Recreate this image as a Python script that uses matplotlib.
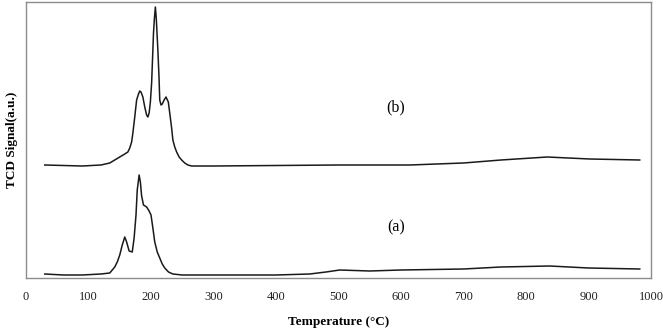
import matplotlib
matplotlib.use("Agg")
import matplotlib.pyplot as plt

# Temperature (°C) and TCD signal (arbitrary units)
temp_b = [30, 60, 90, 120, 134, 150, 158, 163, 166, 169, 171, 174, 177, 180, 182, 184, 187, 190,
          193, 195, 197, 199, 201, 203, 204, 205.5, 207, 208.5, 210, 211, 212.8, 214, 216, 218,
          221, 224, 227.7, 230, 233, 235, 238, 241, 245, 249, 254, 259, 265, 270, 300, 400, 500,
          614, 700, 760, 834, 902, 982]
sig_b = [113, 112.5, 112, 113, 115, 121, 124, 126, 130, 136, 145, 161, 178, 184, 187, 186, 181, 171,
         163, 161, 165, 176, 195, 228, 245, 260, 271, 259, 240, 228, 201, 178, 173, 174,
         178, 181, 176, 165, 150, 138, 131, 126, 121, 118, 115, 113, 112, 112, 112, 112.5, 113,
         113, 115, 118, 121, 119, 118]

temp_a = [30, 60, 90, 120, 134, 142, 146, 150, 154, 158, 161, 165, 170, 173, 176, 178, 181, 183,
          185, 188, 193, 197, 200, 203, 206, 210, 214, 218, 222, 228, 235, 250, 300, 400, 454,
          480, 502, 550, 600, 700, 760, 838, 900, 982]
sig_a = [4, 3, 3, 4, 5, 11, 16, 23, 33, 41, 36, 27, 26, 40, 63, 88, 103, 96,
         82, 73, 71, 67, 63, 50, 36, 26, 20, 14, 10, 6, 4, 3, 3, 3, 4,
         6, 8, 7, 8, 9, 11, 12, 10, 9]

labels = ["(a)", "(b)"]
xticks = [0, 100, 200, 300, 400, 500, 600, 700, 800, 900, 1000]

serif = ["Liberation Serif", "DejaVu Serif"]

fig = plt.figure(figsize=(6.63, 3.30), dpi=100)
ax = fig.add_axes([26 / 663, 52 / 330, (651 - 26) / 663, (278 - 2) / 330])

ax.plot(temp_b, sig_b, color="#1a1a1a", lw=1.1, solid_joinstyle="round")
ax.plot(temp_a, sig_a, color="#1a1a1a", lw=1.1, solid_joinstyle="round")

ax.text(593, 51, labels[0], fontsize=11.5, family=serif, ha="center", va="center")
ax.text(591, 171, labels[1], fontsize=11.5, family=serif, ha="center", va="center")

ax.set_xlim(0, 1000)
ax.set_ylim(0, 276)
ax.set_xticks(xticks)
ax.set_xticklabels([str(t) for t in xticks], family=serif, fontsize=9, color="#222222")
ax.set_yticks([])
ax.tick_params(axis="x", length=0, pad=9)
for s in ax.spines.values():
    s.set_color("#8c8c8c")
    s.set_linewidth(1.0)

ax.set_xlabel("Temperature (°C)", family=serif, fontsize=9.5, fontweight="bold", labelpad=10)
ax.set_ylabel("TCD Signal(a.u.)", family=serif, fontsize=9.5, fontweight="bold", labelpad=6)

fig.savefig("out.png", dpi=100)
